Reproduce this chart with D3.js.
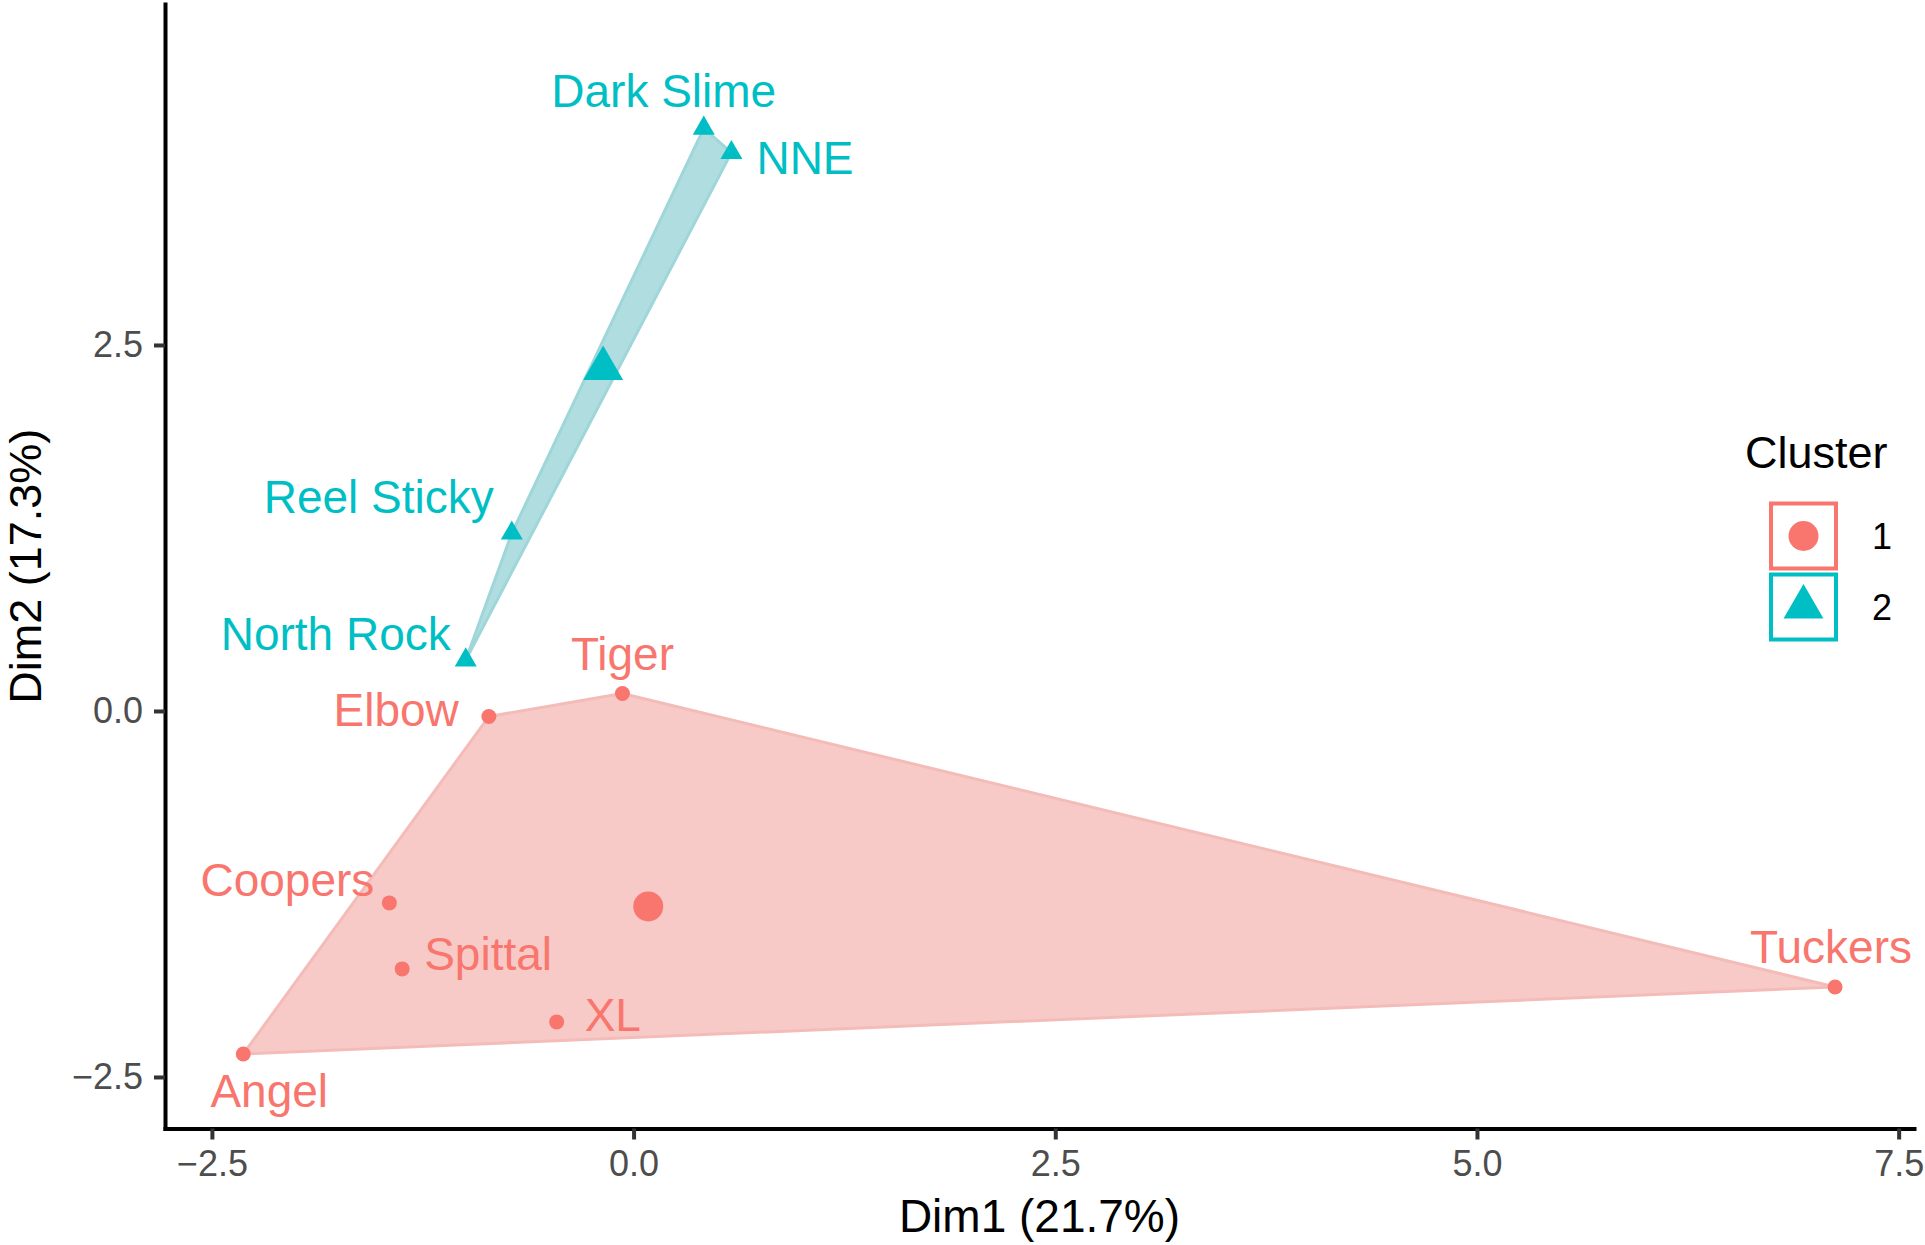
<!DOCTYPE html>
<html>
<head>
<meta charset="utf-8">
<script src="https://cdn.jsdelivr.net/npm/d3@7"></script>
<style>
  html, body { margin: 0; padding: 0; background: #ffffff; }
  svg { display: block; font-family: "Liberation Sans", Arial, Helvetica, sans-serif; }
</style>
</head>
<body>
<svg id="chart" width="1925" height="1245"></svg>
<script>
// ---- data ----
const siteNames = ["Dark Slime", "NNE", "Reel Sticky", "North Rock", "Tiger", "Elbow", "Coopers", "Spittal", "XL", "Angel", "Tuckers"];
const dim1Values = [0.416, 0.580, -0.722, -0.995, -0.066, -0.858, -1.448, -1.372, -0.456, -2.314, 7.123];
const dim2Values = [3.980, 3.814, 1.214, 0.348, 0.119, -0.038, -1.311, -1.762, -2.124, -2.343, -1.885];
const clusterOf = ["2", "2", "2", "2", "1", "1", "1", "1", "1", "1", "1"];
const clusterLevels = ["1", "2"];
const xTickValues = [-2.5, 0.0, 2.5, 5.0, 7.5];
const yTickValues = [-2.5, 0.0, 2.5];
const xTitle = "Dim1 (21.7%)";
const yTitle = "Dim2 (17.3%)";
const legendTitle = "Cluster";

// ---- layout / style (not data) ----
const panel = { left: 165, right: 1914, top: 4, bottom: 1128.5 };
const xDomain = [-2.778, 7.591];
const yDomain = [-2.852, 4.829];
const colours = { "1": "#F8766D", "2": "#00BFC4" };
const hullFill = { "1": "#F7CAC7", "2": "#B0DDE0" };
const hullStroke = { "1": "#F4BCB8", "2": "#9FD6D9" };
// label placement relative to each point (anchor, dx, dy in px)
const labelPlacement = {
  "Dark Slime": ["middle", -40, -21],
  "NNE": ["start", 25, 21],
  "Reel Sticky": ["end", -18, -20],
  "North Rock": ["end", -15, -10],
  "Tiger": ["middle", 0, -24],
  "Elbow": ["end", -30, 9],
  "Coopers": ["end", -15, -7],
  "Spittal": ["start", 22, 1],
  "XL": ["start", 28, 9],
  "Angel": ["middle", 26, 53],
  "Tuckers": ["middle", -4, -24]
};

const points = siteNames.map((n, i) => ({ name: n, x: dim1Values[i], y: dim2Values[i], c: clusterOf[i] }));

const svg = d3.select("#chart");
const x = d3.scaleLinear().domain(xDomain).range([panel.left, panel.right]);
const y = d3.scaleLinear().domain(yDomain).range([panel.bottom, panel.top]);

// ---- convex hulls ----
const hullLayer = svg.append("g");
clusterLevels.forEach(c => {
  const pts = points.filter(p => p.c === c).map(p => [x(p.x), y(p.y)]);
  const hull = d3.polygonHull(pts);
  hullLayer.append("path")
    .attr("d", "M" + hull.map(p => p.join(",")).join("L") + "Z")
    .attr("fill", hullFill[c])
    .attr("stroke", hullStroke[c])
    .attr("stroke-width", 3)
    .attr("stroke-linejoin", "round");
});

// ---- points ----
const triSmall = d3.symbol().type(d3.symbolTriangle).size(210);
const triBig = d3.symbol().type(d3.symbolTriangle).size(690);
const ptLayer = svg.append("g");
points.forEach(p => {
  if (p.c === "1") {
    ptLayer.append("circle").attr("cx", x(p.x)).attr("cy", y(p.y)).attr("r", 7.5).attr("fill", colours[p.c]);
  } else {
    ptLayer.append("path").attr("d", triSmall()).attr("transform", `translate(${x(p.x)},${y(p.y)})`).attr("fill", colours[p.c]);
  }
});

// ---- cluster centres (mean of members) ----
clusterLevels.forEach(c => {
  const mem = points.filter(p => p.c === c);
  const cx = d3.mean(mem, p => p.x), cy = d3.mean(mem, p => p.y);
  if (c === "1") {
    ptLayer.append("circle").attr("cx", x(cx)).attr("cy", y(cy)).attr("r", 15).attr("fill", colours[c]);
  } else {
    ptLayer.append("path").attr("d", triBig()).attr("transform", `translate(${x(cx)},${y(cy)})`).attr("fill", colours[c]);
  }
});

// ---- labels ----
const lblLayer = svg.append("g");
points.forEach(p => {
  const [anchor, dx, dy] = labelPlacement[p.name];
  lblLayer.append("text")
    .attr("x", x(p.x) + dx).attr("y", y(p.y) + dy)
    .attr("text-anchor", anchor)
    .attr("font-size", 46)
    .attr("fill", colours[p.c])
    .text(p.name);
});

// ---- axes ----
const fmt = d3.format(".1f");
const xAxis = svg.append("g").attr("transform", `translate(0,${panel.bottom})`)
  .call(d3.axisBottom(x).tickValues(xTickValues).tickFormat(fmt).tickSize(11).tickSizeOuter(0).tickPadding(10.5));
const yAxis = svg.append("g").attr("transform", `translate(${panel.left},0)`)
  .call(d3.axisLeft(y).tickValues(yTickValues).tickFormat(fmt).tickSize(11).tickSizeOuter(0).tickPadding(11));
[xAxis, yAxis].forEach(a => {
  a.select(".domain").attr("stroke", "#000").attr("stroke-width", 4).attr("stroke-linecap", "square");
  a.selectAll(".tick line").attr("stroke", "#333333").attr("stroke-width", 4);
  a.selectAll(".tick text").attr("fill", "#4D4D4D").attr("font-size", 36)
    .attr("font-family", '"Liberation Sans", Arial, Helvetica, sans-serif');
});

// axis titles
svg.append("text")
  .attr("x", (panel.left + panel.right) / 2).attr("y", 1232)
  .attr("text-anchor", "middle").attr("font-size", 46).attr("fill", "#000").text(xTitle);
svg.append("text")
  .attr("transform", `translate(41,${(panel.top + panel.bottom) / 2}) rotate(-90)`)
  .attr("text-anchor", "middle").attr("font-size", 45).attr("fill", "#000").text(yTitle);

// ---- legend ----
const lg = svg.append("g");
lg.append("text").attr("x", 1745).attr("y", 468).attr("font-size", 45).attr("fill", "#000").text(legendTitle);
const keyTop = 501.5, keySize = 69, keyLeft = 1769;
clusterLevels.forEach((c, i) => {
  const ky = keyTop + i * (keySize + 2);
  lg.append("rect")
    .attr("x", keyLeft + 2).attr("y", ky + 2)
    .attr("width", keySize - 4).attr("height", keySize - 4)
    .attr("fill", "#fff").attr("stroke", colours[c]).attr("stroke-width", 4);
  const cx = keyLeft + keySize / 2, cy = ky + keySize / 2;
  if (c === "1") {
    lg.append("circle").attr("cx", cx).attr("cy", cy).attr("r", 15).attr("fill", colours[c]);
  } else {
    lg.append("path").attr("d", triBig()).attr("transform", `translate(${cx},${cy})`).attr("fill", colours[c]);
  }
  lg.append("text").attr("x", 1872).attr("y", cy + 13).attr("font-size", 36).attr("fill", "#000").text(c);
});
</script>
</body>
</html>
